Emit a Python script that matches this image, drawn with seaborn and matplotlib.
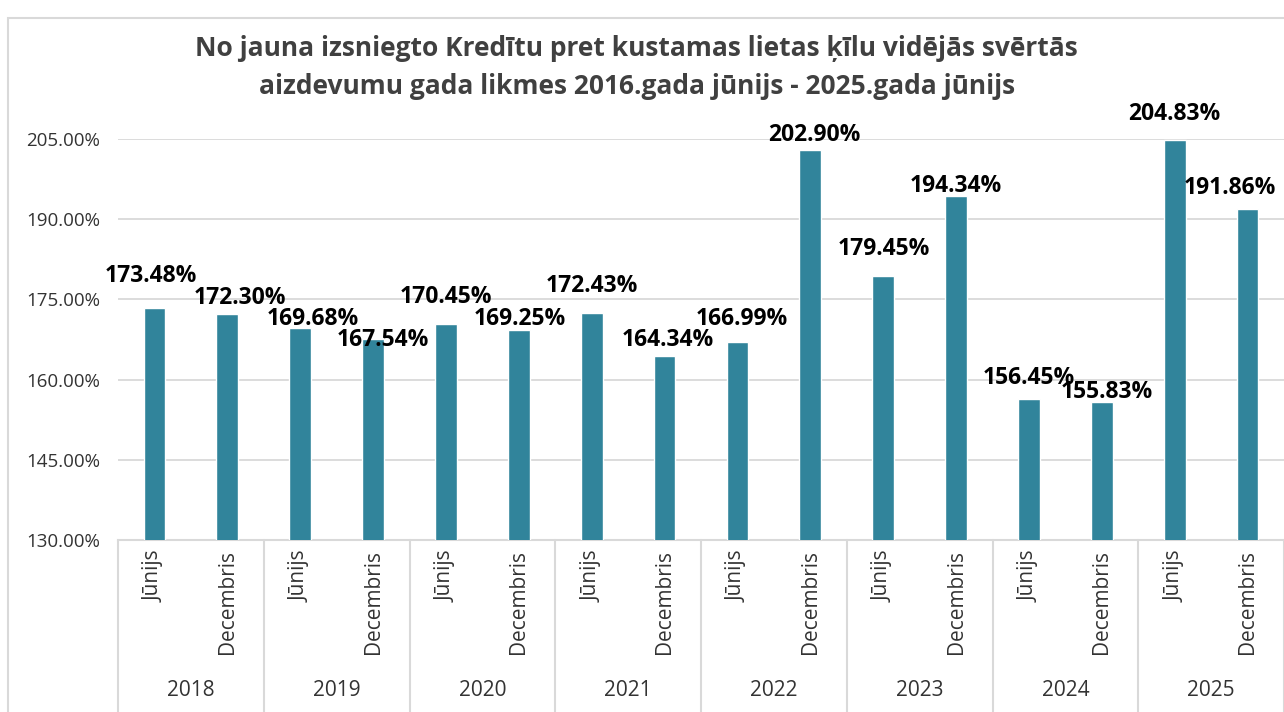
import numpy as np
import pandas as pd
import seaborn as sns
import matplotlib.pyplot as plt
from matplotlib.patches import Rectangle

years = ["2018", "2019", "2020", "2021", "2022", "2023", "2024", "2025"]
months = ["Jūnijs", "Decembris"]
rates = [173.48, 172.30, 169.68, 167.54, 170.45, 169.25, 172.43, 164.34,
         166.99, 202.90, 179.45, 194.34, 156.45, 155.83, 204.83, 191.86]

title = ("No jauna izsniegto Kredītu pret kustamas lietas ķīlu vidējās svērtās\n"
         "aizdevumu gada likmes 2016.gada jūnijs - 2025.gada jūnijs")

# label nudges in pixels (dx right, dy above the bar top), as placed in the original
label_dx = [-4, 13, 13, 10, 0, 1, 0, 3, 4, 4, 1, 0, 0, 5, 0, -18]
label_dy = [32, 16, 9, -1, 27, 11, 27, 16, 23, 15, 27, 10, 21, 10, 26, 21]

keys = [f"{y} {m}" for y in years for m in months]
df = pd.DataFrame({"key": keys, "rate": rates})

sns.set_theme(style="white")
plt.rcParams["font.family"] = ["Open Sans", "DejaVu Sans"]

fig = plt.figure(figsize=(12.84, 7.12), dpi=100)
ax = fig.add_axes([118 / 1284, 172 / 712, 1166 / 1284, 401 / 712])

# chart border
fig.patches.append(Rectangle((8 / 1284, -0.01), 1.1, (712 - 18) / 712 + 0.01,
                             transform=fig.transFigure, fill=False,
                             edgecolor="#D9D9D9", linewidth=1.5, zorder=0))

sns.barplot(data=df, x="key", y="rate", color="#31849B", width=0.3,
            saturation=1, ax=ax, zorder=3)

ax.set_ylim(130, 205)
ax.set_xlim(-0.5, len(keys) - 0.5)
ax.set_yticks(np.arange(130, 206, 15))
ax.set_yticklabels([f"{v:.2f}%" for v in np.arange(130, 206, 15)], fontsize=13.5,
                   color="#333333")
ax.tick_params(axis="y", length=0, pad=13)
ax.grid(axis="y", color="#D9D9D9", linewidth=1.3, zorder=0)
for s in ["top", "right", "left"]:
    ax.spines[s].set_visible(False)
ax.spines["bottom"].set_color("#D9D9D9")
ax.spines["bottom"].set_linewidth(1.5)
ax.set_xlabel("")
ax.set_ylabel("")
ax.set_xticks(range(len(keys)))
ax.set_xticklabels([])
ax.tick_params(axis="x", length=0)

trans = ax.get_xaxis_transform()
for i, k in enumerate(keys):
    ax.text(i, -0.025, k.split(" ")[1], rotation=90, ha="center", va="top",
            fontsize=15, color="#333333", transform=trans)
for j, y in enumerate(years):
    ax.text(2 * j + 0.5, -0.375, y, ha="center", va="center", fontsize=15,
            color="#333333", transform=trans)
for j in range(len(years) + 1):
    ax.plot([2 * j - 0.5, 2 * j - 0.5], [0, -0.45], color="#D9D9D9",
            linewidth=1.5, transform=trans, clip_on=False)

for i, v in enumerate(rates):
    ax.annotate(f"{v:.2f}%", (i, v),
                xytext=(label_dx[i] * 0.72, label_dy[i] * 0.72),
                textcoords="offset points", ha="center", va="center",
                fontsize=16.5, fontweight="bold", color="black", zorder=5,
                annotation_clip=False)

fig.text(0.496, 0.905, title, ha="center", va="center", fontsize=19,
         fontweight="bold", color="#404040", linespacing=1.5)

fig.savefig("out.png", dpi=100)
